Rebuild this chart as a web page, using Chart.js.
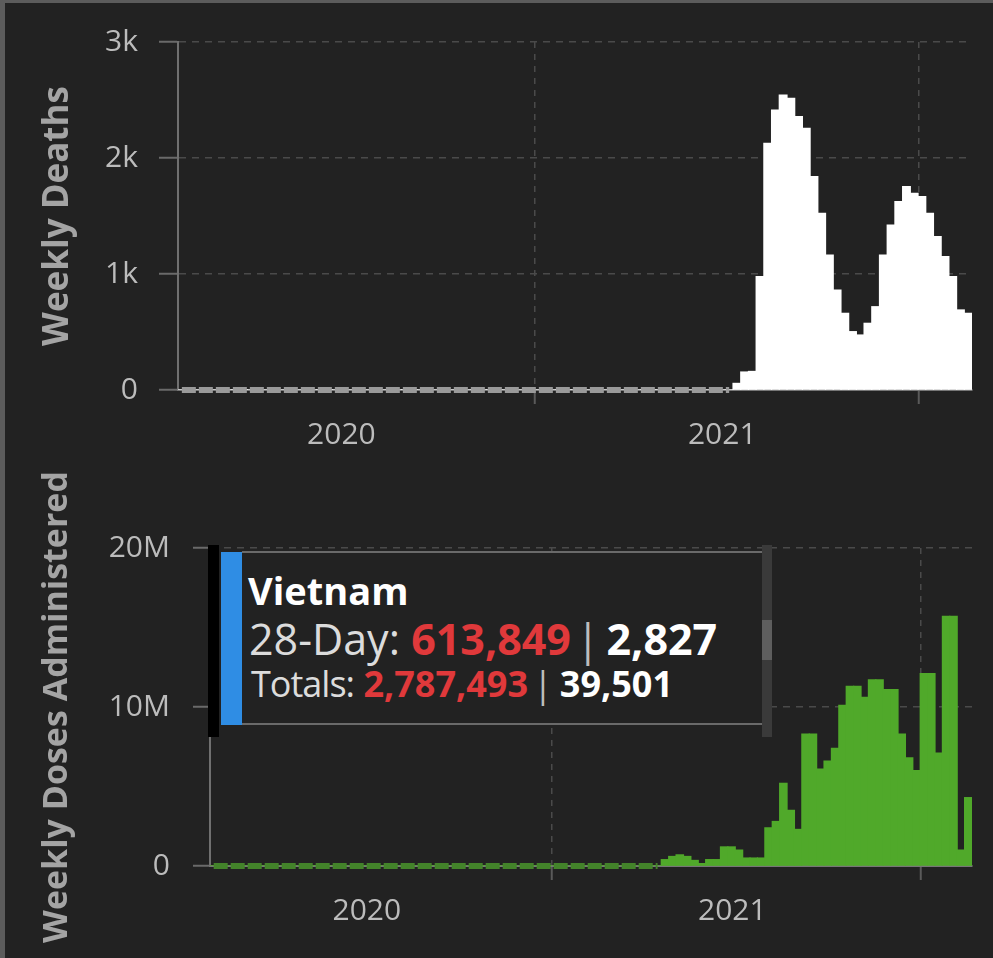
<!DOCTYPE html>
<html>
<head>
<meta charset="utf-8">
<script src="https://cdn.jsdelivr.net/npm/chart.js@4.4.1/dist/chart.umd.min.js"></script>
<style>
  html, body { margin: 0; padding: 0; background: #222222; }
  body { width: 993px; height: 958px; position: relative; overflow: hidden; font-family: 'Open Sans', sans-serif; }
  .frame { position: absolute; left: 0; top: 0; width: 993px; height: 958px; box-sizing: border-box;
           border-left: 5px solid #5c5c5c; border-top: 3px solid #5c5c5c; pointer-events: none; }
  #deathsWrap { position: absolute; left: 5px; top: 3px; }
  #dosesWrap { position: absolute; left: 5px; top: 470px; }

  /* hover box over the doses chart */
  .tip-black { position: absolute; left: 208px; top: 545px; width: 11px; height: 192px; background: #000; }
  .tip-blue { position: absolute; left: 221px; top: 552px; width: 21px; height: 173px; background: #2f8de4; }
  .tip-box { position: absolute; left: 242px; top: 551px; width: 520px; height: 174px; box-sizing: border-box;
             background: #222222; border-top: 2px solid #6a6a6a; border-bottom: 2px solid #6a6a6a; }
  .tip-scroll { position: absolute; left: 762px; top: 545px; width: 10px; height: 192px; background: #3a3a3a; }
  .tip-thumb { position: absolute; left: 762px; top: 620px; width: 10px; height: 40px; background: #5e5e5e; }
  .tip-line { position: absolute; white-space: nowrap; line-height: 1; color: #dcdcdc; }
  .tip-title { left: 248px; top: 571px; font-size: 38px; font-weight: 700; color: #ffffff; }
  .tip-28 { left: 249px; top: 617px; font-size: 43px; }
  .tip-tot { left: 251px; top: 666px; font-size: 36px; }
  .tip-tot .lead { letter-spacing: -1px; }
  .red { color: #e0393b; font-weight: 700; }
  .wh { color: #ffffff; font-weight: 700; }
  .sep { color: #bdbdbd; margin: 0 7px 0 5px; }
</style>
</head>
<body>
<div id="deathsWrap"><canvas id="deathsCanvas" width="988" height="462"></canvas></div>
<div id="dosesWrap"><canvas id="dosesCanvas" width="988" height="488"></canvas></div>

<div class="tip-black"></div>
<div class="tip-blue"></div>
<div class="tip-box"></div>
<div class="tip-scroll"></div>
<div class="tip-thumb"></div>
<div class="tip-line tip-title">Vietnam</div>
<div class="tip-line tip-28">28-Day: <span class="red">613,849</span><span class="sep">|</span><span class="wh">2,827</span></div>
<div class="tip-line tip-tot"><span class="lead">Totals:</span> <span class="red">2,787,493</span><span class="sep">|</span><span class="wh">39,501</span></div>
<div class="frame"></div>

<script>
// weekly values, one per week, oldest first
const weeklyDeaths = [
  0, 0, 0, 0, 0, 0, 0, 0, 0, 0, 0, 0,
  0, 0, 0, 0, 0, 0, 0, 0, 0, 0, 0, 0,
  0, 0, 0, 0, 0, 0, 0, 0, 0, 0, 0, 0,
  0, 0, 0, 0, 0, 0, 0, 0, 0, 0, 0, 0,
  0, 0, 0, 0, 0, 0, 0, 0, 0, 0, 0, 0,
  0, 0, 0, 0, 0, 0, 0, 0, 0, 0, 0, 0,
  57, 155, 160, 977, 2126, 2414, 2543, 2514, 2356, 2256, 1839, 1523,
  1164, 862, 661, 503, 474, 575, 718, 1164, 1422, 1624, 1753, 1695,
  1667, 1523, 1322, 1149, 977, 690, 661
];
// millions of doses
const weeklyDoses = [
  0, 0, 0, 0, 0, 0, 0, 0, 0, 0, 0, 0,
  0, 0, 0, 0, 0, 0, 0, 0, 0, 0, 0, 0,
  0, 0, 0, 0, 0, 0, 0, 0, 0, 0, 0, 0,
  0, 0, 0, 0, 0, 0, 0, 0, 0, 0, 0, 0,
  0, 0, 0, 0, 0, 0, 0, 0, 0, 0, 0, 0,
  0, 0.4, 0.6, 0.7, 0.6, 0.35, 0.15, 0.4, 0.4, 1.2, 1.2, 1.0,
  0.5, 0.5, 0.5, 2.4, 2.8, 5.2, 3.5, 2.3, 8.3, 8.3, 6.1, 6.6,
  7.4, 10.1, 11.3, 11.3, 10.6, 11.7, 11.7, 11.1, 11.1, 8.3, 6.8, 6.0,
  12.1, 12.1, 7.1, 15.7, 15.7, 1.0, 4.3
];

// x axis: year names sit mid-year, dashed lines mark the year boundaries (in weeks)
const yearLabels = ['2020', '2021'];
const yearLabelWeek = [20.7, 70.1];
const yearBoundaryWeek = [45.75, 95.6];

const deathTicks = [0, 1000, 2000, 3000];
const doseTicks = [0, 10, 20];

const xTickList = yearLabelWeek.map((w, i) => ({ value: w, text: yearLabels[i], line: false }))
  .concat(yearBoundaryWeek.map(w => ({ value: w, text: '', line: true })))
  .sort((a, b) => a.value - b.value);

const gridColor = '#4a4a4a';
const tickLabelColor = '#bcbcbc';
const titleColor = '#a4a4a4';

Chart.defaults.font.family = "'Open Sans', sans-serif";

function isBoundary(ctx) {
  const t = xTickList[ctx.index];
  return ctx.tick && t && t.line;
}

function buildChart(canvasId, values, cfg) {
  const bars = values.map((v, i) => ({ x: i, y: v }));
  const zeroRun = values.map((v, i) => ({ x: i, y: v === 0 ? 0 : null }));

  return new Chart(document.getElementById(canvasId), {
    type: 'bar',
    data: {
      datasets: [
        {
          type: 'line',
          data: zeroRun,
          borderColor: cfg.zeroColor,
          borderWidth: 6,
          borderDash: [14, 3],
          borderCapStyle: 'butt',
          pointRadius: 0,
          spanGaps: false,
          clip: false,
          order: 0
        },
        {
          type: 'bar',
          data: bars,
          backgroundColor: cfg.barColor,
          borderWidth: 0,
          barPercentage: 1,
          categoryPercentage: 1,
          inflateAmount: 0.6,
          order: 1
        }
      ]
    },
    options: {
      responsive: false,
      animation: false,
      devicePixelRatio: 1,
      events: [],
      layout: { padding: { top: cfg.padTop, right: 21, left: 0, bottom: 0 } },
      plugins: { legend: { display: false }, tooltip: { enabled: false } },
      scales: {
        x: {
          type: 'linear',
          min: -0.5,
          max: values.length - 0.5,
          offset: false,
          afterBuildTicks: (axis) => { axis.ticks = xTickList.map(t => ({ value: t.value })); },
          afterFit: (axis) => { axis.height = cfg.xHeight; },
          ticks: {
            autoSkip: false,
            maxRotation: 0,
            color: tickLabelColor,
            font: { size: 30 },
            padding: 13,
            callback: (v, i) => xTickList[i].text
          },
          grid: {
            offset: false,
            color: ctx => isBoundary(ctx) ? gridColor : 'rgba(0,0,0,0)',
            tickColor: ctx => isBoundary(ctx) ? '#5a5a5a' : 'rgba(0,0,0,0)',
            tickLength: 14,
            lineWidth: 1.5,
            tickWidth: 2
          },
          border: { color: '#777777', width: 2, dash: [6, 6] }
        },
        y: {
          min: 0,
          max: cfg.yMax,
          afterBuildTicks: (axis) => { axis.ticks = cfg.yTicks.map(v => ({ value: v })); },
          afterFit: (axis) => { axis.width = cfg.yWidth; },
          ticks: {
            color: tickLabelColor,
            font: { size: 30 },
            padding: cfg.yPad,
            callback: cfg.yFormat
          },
          grid: {
            color: ctx => (ctx.tick && ctx.tick.value === 0) ? 'rgba(0,0,0,0)' : gridColor,
            tickColor: '#6a6a6a',
            tickLength: cfg.yTickLen,
            lineWidth: 1.5,
            tickWidth: 2
          },
          border: { color: '#707070', width: 2, dash: [7, 6] },
          title: {
            display: true,
            text: cfg.title,
            color: titleColor,
            font: { size: cfg.titleSize, weight: 'bold' },
            padding: { top: 32, bottom: 0 }
          }
        }
      }
    }
  });
}

buildChart('deathsCanvas', weeklyDeaths, {
  title: 'Weekly Deaths',
  titleSize: 35,
  barColor: '#ffffff',
  zeroColor: '#9a9a9a',
  yMax: 3000,
  yTicks: deathTicks,
  yFormat: v => v === 0 ? '0' : (v / 1000) + 'k',
  padTop: 39,
  xHeight: 75,
  yWidth: 173,
  yTickLen: 19,
  yPad: 21
});

buildChart('dosesCanvas', weeklyDoses, {
  title: 'Weekly Doses Administered',
  titleSize: 34,
  barColor: '#50a92a',
  zeroColor: '#43832a',
  yMax: 20,
  yTicks: doseTicks,
  yFormat: v => v === 0 ? '0' : v + 'M',
  padTop: 78,
  xHeight: 92,
  yWidth: 205,
  yTickLen: 17,
  yPad: 23
});
</script>
</body>
</html>
